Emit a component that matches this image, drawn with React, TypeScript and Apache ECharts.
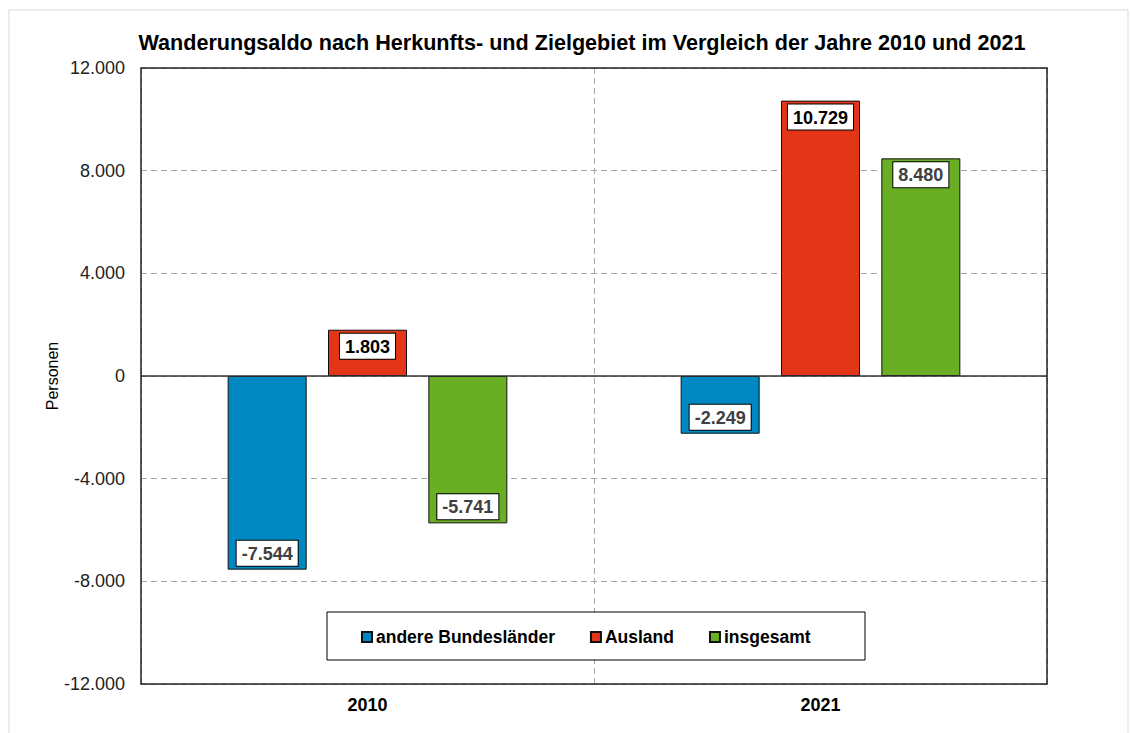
import React, { useEffect, useRef } from "react";
import * as echarts from "echarts";

const categories = ["2010", "2021"];
const seriesNames = ["andere Bundesländer", "Ausland", "insgesamt"];
const bundeslaender = [-7544, -2249];
const ausland = [1803, 10729];
const insgesamt = [-5741, 8480];
const colors = ["#0088c2", "#e33618", "#6aae23"];
const labelColors = ["#404040", "#000000", "#404040"];

const FONT = "'Liberation Sans', Arial, sans-serif";

function fmt(v: number): string {
  const s = Math.abs(Math.round(v)).toString().replace(/\B(?=(\d{3})+(?!\d))/g, ".");
  return (v < 0 ? "-" : "") + s;
}

function makeSeries(name: string, values: number[], idx: number) {
  return {
    name,
    type: "bar",
    barWidth: 79,
    barGap: "27%",
    itemStyle: { color: colors[idx], borderColor: "#111", borderWidth: 1 },
    data: values.map((v) => ({
      value: v,
      label: { position: v >= 0 ? "insideTop" : "insideBottom" },
    })),
    label: {
      show: true,
      distance: 4,
      formatter: (p: any) => fmt(p.value),
      backgroundColor: "#fff",
      borderColor: "#000",
      borderWidth: 1,
      padding: [4, 5, 3, 5],
      color: labelColors[idx],
      fontFamily: FONT,
      fontWeight: "bold",
      fontSize: 18,
    },
    ...(idx === 0
      ? {
          markLine: {
            silent: true,
            symbol: "none",
            label: { show: false },
            lineStyle: { color: "#333", width: 1.5, type: "solid" },
            data: [{ yAxis: 0 }],
          },
        }
      : {}),
  };
}

export default function App() {
  const ref = useRef<HTMLDivElement>(null);
  useEffect(() => {
    if (!ref.current) return;
    const chart = echarts.init(ref.current, null, { renderer: "svg" });
    chart.setOption({
      animation: false,
      backgroundColor: "#fff",
      textStyle: { fontFamily: FONT },
      title: {
        text: "Wanderungsaldo nach Herkunfts- und Zielgebiet im Vergleich der Jahre 2010 und 2021",
        left: 577,
        top: 26,
        textAlign: "center",
        textStyle: { fontFamily: FONT, fontSize: 21.6, fontWeight: "bold", color: "#000" },
      },
      graphic: [
        {
          type: "rect",
          z: -1,
          shape: { x: 9, y: 10, width: 1119, height: 740 },
          style: { fill: "none", stroke: "#d9d9d9", lineWidth: 1 },
        },
        {
          type: "rect",
          z: 3,
          shape: { x: 327, y: 612, width: 538, height: 48 },
          style: { fill: "#fff", stroke: "#000", lineWidth: 1 },
        },
        {
          type: "rect",
          z: 10,
          silent: true,
          shape: { x: 141, y: 68, width: 906, height: 616 },
          style: { fill: "none", stroke: "#222", lineWidth: 1.5 },
        },
      ],
      legend: {
        data: seriesNames,
        left: 361,
        top: 628,
        padding: 0,
        icon: "rect",
        itemWidth: 10,
        itemHeight: 10,
        itemGap: 35,
        z: 5,
        textStyle: { fontFamily: FONT, fontSize: 17.5, fontWeight: "bold", color: "#000", padding: [0, 0, 0, -1] },
      },
      grid: {
        left: 141,
        right: 83,
        top: 68,
        bottom: 49,
        show: false,
      },
      xAxis: {
        type: "category",
        data: categories,
        axisLine: { show: false },
        axisTick: { show: false },
        axisLabel: { fontFamily: FONT, fontSize: 18, fontWeight: "bold", color: "#000", margin: 12 },
        splitLine: { show: true, lineStyle: { color: "#a6a6a6", type: [6, 4], width: 1 } },
      },
      yAxis: {
        type: "value",
        min: -12000,
        max: 12000,
        interval: 4000,
        name: "Personen",
        nameLocation: "middle",
        nameGap: 81,
        nameMoveOverlap: false,
        nameRotate: 90,
        nameTextStyle: { fontFamily: FONT, fontSize: 16, color: "#000" },
        axisLine: { show: false },
        axisTick: { show: false },
        axisLabel: { fontFamily: FONT, fontSize: 18, color: "#222", margin: 16, formatter: (v: number) => fmt(v) },
        splitLine: { show: true, lineStyle: { color: "#a6a6a6", type: [6, 4], width: 1 } },
      },
      series: [
        makeSeries(seriesNames[0], bundeslaender, 0),
        makeSeries(seriesNames[1], ausland, 1),
        makeSeries(seriesNames[2], insgesamt, 2),
      ],
    });
    return () => chart.dispose();
  }, []);
  return (
    <div
      ref={ref}
      style={{ position: "fixed", left: 0, top: 0, width: 1130, height: 733 }}
    />
  );
}
